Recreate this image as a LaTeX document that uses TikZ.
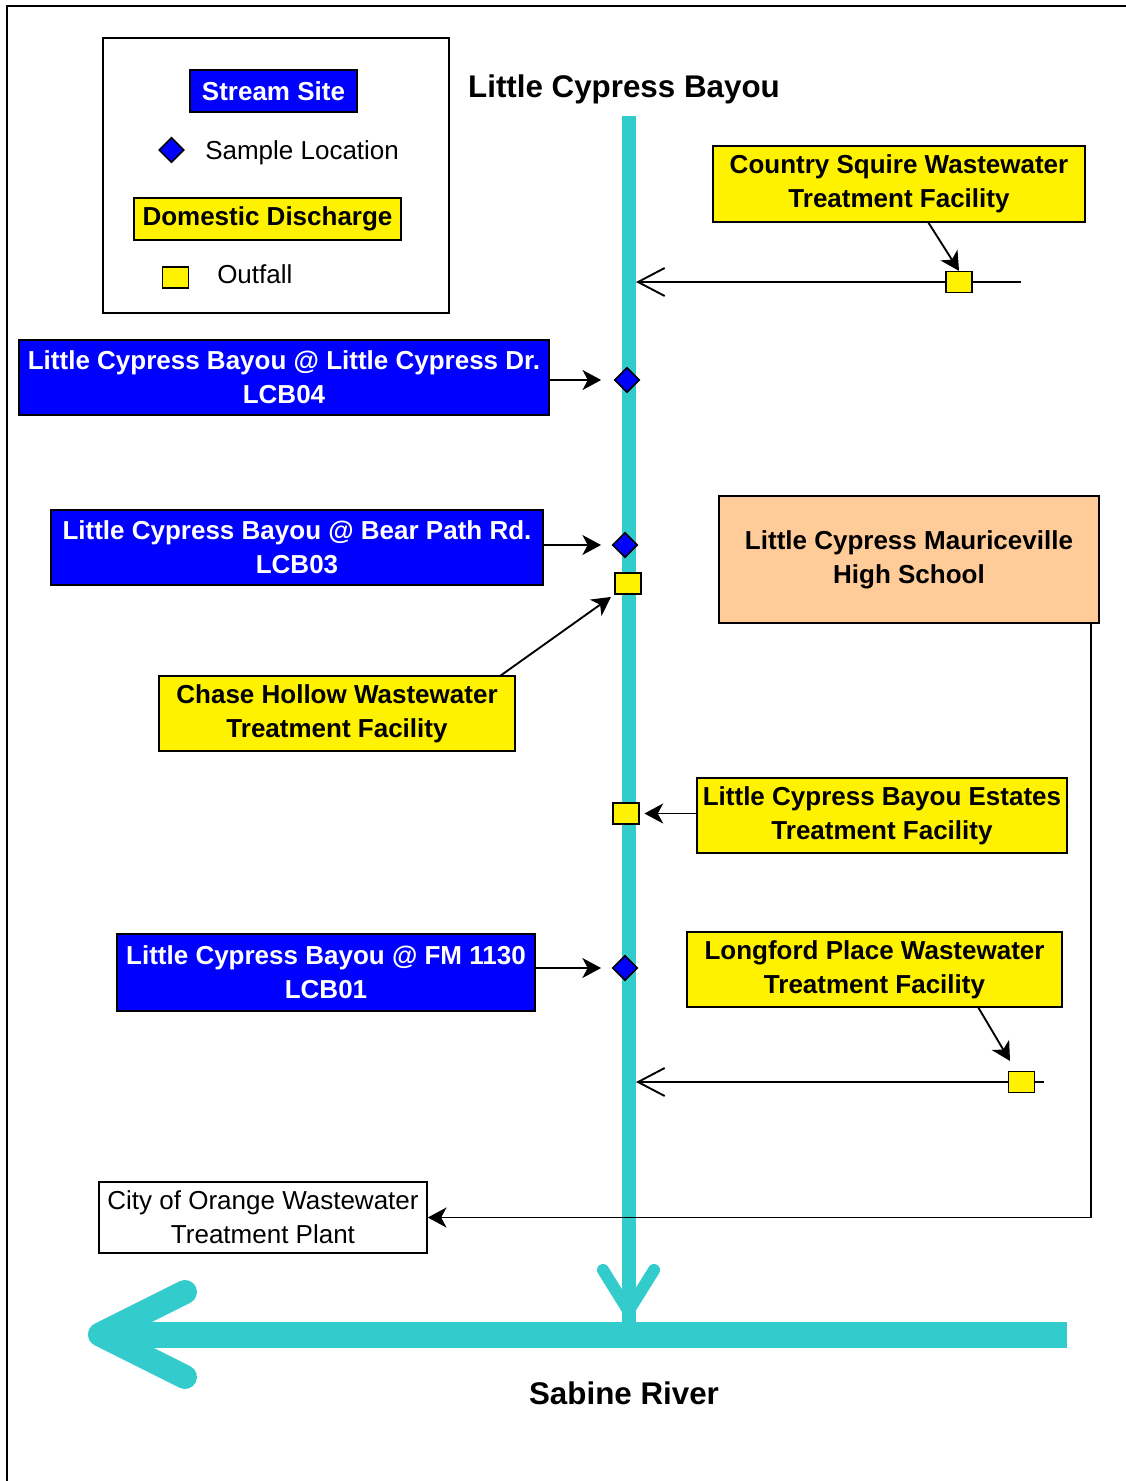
\documentclass[tikz,border=0pt]{standalone}
\usepackage{fontspec}
\setmainfont{Liberation Sans}
\usetikzlibrary{arrows.meta,shapes.geometric}
\definecolor{bayou}{RGB}{51,204,204}
\definecolor{peach}{RGB}{255,204,153}
\newcommand{\lblfont}{\fontsize{19.5}{25.5}\selectfont}
\newcommand{\ttlfont}{\fontsize{23.5}{28}\selectfont}

\begin{document}
\begin{tikzpicture}[x=0.75pt,y=0.75pt,yscale=-1,xscale=1,
		sz/.style 2 args={minimum width=#1*0.75pt,minimum height=#2*0.75pt},
		box/.style={draw,line width=1.2pt,inner sep=0pt,align=center,font=\bfseries\lblfont},
		sitebox/.style={box,fill=blue,text=white},
		dischbox/.style={box,fill=yellow},
		sample/.style={diamond,draw,fill=blue,line width=1.2pt,inner sep=0pt,aspect=1,minimum size=18.75pt},
		outfall/.style={draw,fill=yellow,line width=1.2pt,inner sep=0pt,minimum width=19.5pt,minimum height=15.5pt},
		pipe/.style={line width=1.4pt},
		pointer/.style={pipe,-{Stealth[length=14pt,width=15pt,inset=4pt]}},
		inflow/.style={pipe,-{Straight Barb[length=20pt,width=21pt]}}]
			\useasboundingbox (0,0) rectangle (1126,1481);
			%Frame
			\draw [line width=1.5pt] (7,1481) -- (7,6) -- (1126,6) ;
			
			%Legend
			\node [draw,line width=1.2pt,sz={346}{275}] (legend) at (276,175.5) {};
			\node [sitebox,sz={167}{42}] (lgsite) at (273.5,91) {Stream Site};
			\node [sample] (lgsample) at (171.5,150) {};
			\node [anchor=west,inner sep=0pt,font=\lblfont] (lgsampletxt) at (205,153) {Sample Location};
			\node [dischbox,sz={267}{42}] (lgdisch) at (267.5,219) {Domestic Discharge};
			\node [outfall] (lgoutfall) at (175.5,277.5) {};
			\node [anchor=west,inner sep=0pt,font=\lblfont] (lgoutfalltxt) at (217,274) {Outfall};
			
			%Text Nodes
			\node [font=\bfseries\ttlfont] (bayoutitle) at (624,89) {Little Cypress Bayou};
			\node [font=\bfseries\ttlfont] (sabinetitle) at (624,1393) {Sabine River};
			
			%Little Cypress Bayou
			\draw [bayou,line width=10.5pt] (628.5,116) -- (628.5,1325) ;
			\draw [bayou,line width=9pt,line cap=round,miter limit=10] (603,1270) -- (628.5,1311) -- (654,1270) ;
			%Sabine River
			\draw [bayou,line width=19.5pt] (1067,1334.5) -- (110,1334.5) ;
			\draw [bayou,line width=18pt,line cap=round,line join=round] (185,1292) -- (100,1334.5) -- (185,1377) ;
			
			%Shape: Rectangle
			\node [dischbox,sz={372}{76}] (country) at (899,184) {Country Squire Wastewater\\Treatment Facility};
			\node [sitebox,sz={530}{75}] (lcb04) at (284,377.5) {Little Cypress Bayou @ Little Cypress Dr.\\LCB04};
			\node [sitebox,sz={492}{75}] (lcb03) at (297,547.5) {Little Cypress Bayou @ Bear Path Rd.\\LCB03};
			\node [box,fill=peach,sz={380}{127}] (mvhs) at (909,559.5) {Little Cypress Mauriceville\\High School};
			\node [dischbox,sz={356}{75}] (chase) at (337,713.5) {Chase Hollow Wastewater\\Treatment Facility};
			\node [dischbox,sz={370}{75}] (estates) at (882,815.5) {Little Cypress Bayou Estates\\Treatment Facility};
			\node [sitebox,sz={418}{77}] (lcb01) at (326,972.5) {Little Cypress Bayou @ FM 1130\\LCB01};
			\node [dischbox,sz={375}{75}] (longford) at (874.5,969.5) {Longford Place Wastewater\\Treatment Facility};
			\node [box,font=\lblfont,sz={328}{71}] (orange) at (263,1217.5) {City of Orange Wastewater\\Treatment Plant};
			
			%Sample Locations and Outfalls
			\node [sample] (d04) at (627,380) {};
			\node [sample] (d03) at (625,545) {};
			\node [sample] (d01) at (625,968) {};
			\node [outfall] (ofcs) at (959,282) {};
			\node [outfall] (ofch) at (628,583.5) {};
			\node [outfall] (ofes) at (626,813.5) {};
			\node [outfall] (oflp) at (1021.5,1082) {};
			
			\coordinate (csin) at (636,282) ;
			\coordinate (csend) at (1021,282) ;
			\coordinate (cstail) at (928,222) ;
			\coordinate (chtail) at (500,676) ;
			\coordinate (mvout) at (1091,623) ;
			\coordinate (lpin) at (636,1082) ;
			\coordinate (lpend) at (1044,1082) ;
			\coordinate (lptail) at (978,1007) ;
			\coordinate (lptip) at (1010,1061) ;
			
			%Straight Lines
			\draw [inflow] (ofcs.west) -- (csin) ;
			\draw [pipe] (ofcs.east) -- (csend) ;
			\draw [pointer] (cstail) -- (ofcs.north) ;
			%Straight Lines
			\draw [pointer,shorten >=9.4pt] (lcb04.east |- d04) -- (d04.west) ;
			\draw [pointer,shorten >=8pt] (lcb03.east |- d03) -- (d03.west) ;
			\draw [pointer,shorten >=3pt] (chtail) -- (ofch.south west) ;
			\draw [pointer,shorten >=3.5pt] (estates.west |- ofes) -- (ofes.east) ;
			\draw [pointer,shorten >=8pt] (lcb01.east |- d01) -- (d01.west) ;
			%Straight Lines
			\draw [pointer] (lptail) -- (lptip) ;
			\draw [inflow] (oflp.west) -- (lpin) ;
			\draw [pipe] (oflp.east) -- (lpend) ;
			%Straight Lines
			\draw [pointer] (mvout) |- (orange.east) ;
		\end{tikzpicture}
\end{document}
